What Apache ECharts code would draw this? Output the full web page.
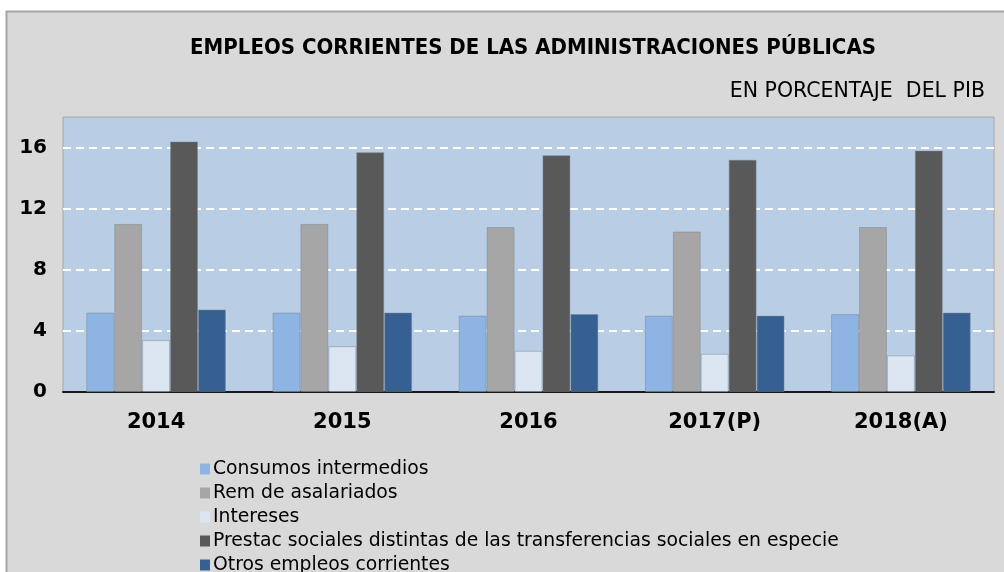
<!DOCTYPE html>
<html>
<head>
<meta charset="utf-8">
<script src="https://cdn.jsdelivr.net/npm/echarts@6/dist/echarts.min.js"></script>
<style>
  html, body { margin: 0; padding: 0; background: #fff; }
  #chart { width: 1004px; height: 572px; }
</style>
</head>
<body>
<div id="chart"></div>
<script>
// años
var years = ["2014", "2015", "2016", "2017(P)", "2018(A)"];
// % del PIB
var consumos = [5.2, 5.2, 5.0, 5.0, 5.1];
var remAsalariados = [11.0, 11.0, 10.8, 10.5, 10.8];
var intereses = [3.4, 3.0, 2.7, 2.5, 2.4];
var prestaciones = [16.4, 15.7, 15.5, 15.2, 15.8];
var otros = [5.4, 5.2, 5.1, 5.0, 5.2];

var seriesNames = [
  "Consumos intermedios",
  "Rem de asalariados",
  "Intereses",
  "Prestac sociales distintas de las transferencias sociales en especie",
  "Otros empleos corrientes"
];
var colors = ["#8eb4e3", "#a6a6a6", "#dce6f2", "#595959", "#376092"];
var values = [consumos, remAsalariados, intereses, prestaciones, otros];

var myChart = echarts.init(document.getElementById("chart"));

var option = {
  backgroundColor: "#ffffff",
  animation: false,
  graphic: [
    {
      type: "rect",
      z: -10,
      shape: { x: 6.5, y: 11.5, width: 1010, height: 600 },
      style: { fill: "#d9d9d9", stroke: "#a6a6a6", lineWidth: 2 }
    }
  ],
  title: [
    {
      text: "EMPLEOS CORRIENTES DE LAS ADMINISTRACIONES PÚBLICAS",
      left: 528,
      top: 32,
      textAlign: "center",
      textStyle: {
        fontFamily: "DejaVu Sans Condensed",
        fontWeight: "bold",
        fontSize: 22,
        color: "#000"
      }
    },
    {
      text: "EN PORCENTAJE  DEL PIB",
      right: 14,
      top: 76,
      textStyle: {
        fontFamily: "DejaVu Sans",
        fontWeight: "normal",
        fontSize: 20.5,
        color: "#000"
      }
    }
  ],
  legend: {
    orient: "vertical",
    left: 200,
    top: 459,
    height: 160,
    padding: 0,
    itemWidth: 10,
    itemHeight: 11,
    itemGap: 4,
    icon: "rect",
    itemStyle: { borderWidth: 0 },
    data: seriesNames,
    textStyle: {
      fontFamily: "DejaVu Sans",
      fontSize: 18.8,
      lineHeight: 20,
      color: "#000",
      padding: [0, 0, 0, -2]
    }
  },
  grid: {
    left: 63,
    right: 10,
    top: 117,
    bottom: 180,
    show: true,
    backgroundColor: "#b9cde5",
    borderColor: "#a6a6a6",
    borderWidth: 1
  },
  xAxis: {
    type: "category",
    data: years,
    axisTick: { show: false },
    axisLine: { lineStyle: { color: "#1a1a1a", width: 2 } },
    axisLabel: {
      margin: 20,
      fontFamily: "DejaVu Sans",
      fontWeight: "bold",
      fontSize: 21,
      color: "#000"
    }
  },
  yAxis: {
    type: "value",
    min: 0,
    max: 18,
    interval: 4,
    axisLine: { show: false },
    axisTick: { show: false },
    axisLabel: {
      showMaxLabel: false,
      margin: 16,
      fontFamily: "DejaVu Sans",
      fontWeight: "bold",
      fontSize: 20,
      color: "#000"
    },
    splitLine: {
      showMaxLine: false,
      lineStyle: { color: "#ffffff", type: [8, 5], width: 2 }
    }
  },
  series: seriesNames.map(function (name, i) {
    return {
      name: name,
      type: "bar",
      data: values[i],
      barGap: "0%",
      barCategoryGap: "25%",
      itemStyle: {
        color: colors[i],
        borderColor: "rgba(120,130,140,0.45)",
        borderWidth: 1
      }
    };
  })
};

myChart.setOption(option);
</script>
</body>
</html>
